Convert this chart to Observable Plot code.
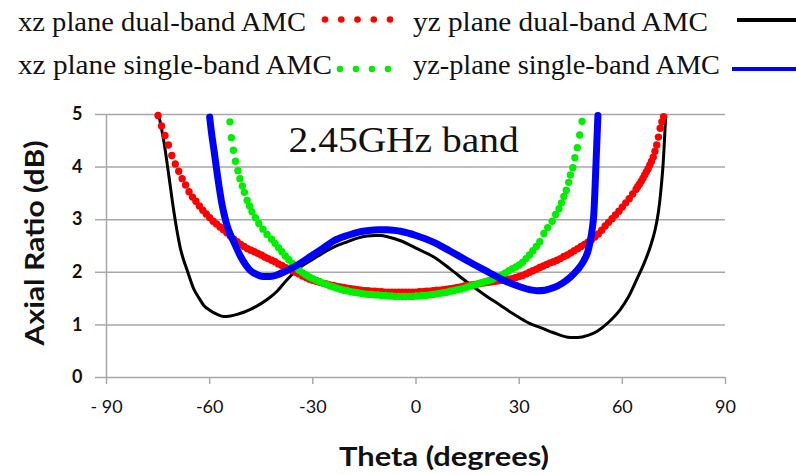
<!DOCTYPE html>
<html><head><meta charset="utf-8">
<script src="https://cdn.jsdelivr.net/npm/d3@7"></script>
<script src="https://cdn.jsdelivr.net/npm/@observablehq/plot@0.6"></script>
<style>
html,body{margin:0;padding:0;background:#fff;}
#chart{width:796px;height:474px;position:relative;overflow:hidden;background:#fff;}
svg{display:block;}
</style></head><body><div id="chart"></div>
<script>
// ---- labels ----
const seriesNames = ["xz plane dual-band AMC", "yz plane dual-band AMC", "xz plane single-band AMC", "yz-plane single-band AMC"];
const seriesColors = ["#ff0000", "#000000", "#00ee00", "#0000ff"];
const xTitle = "Theta (degrees)";
const yTitle = "Axial Ratio (dB)";
const annotation = "2.45GHz band";
const xTicks = [-90, -60, -30, 0, 30, 60, 90];
const yTicks = [0, 1, 2, 3, 4, 5];

// ---- series: [theta (deg), axial ratio (dB)] ----
const xzDual = [[-75,4.98],[-74,4.78],[-73,4.6],[-72,4.42],[-71,4.22],[-70,4.06],[-69,3.92],[-68,3.78],[-67,3.66],[-66,3.53],[-65,3.43],[-64,3.35],[-63,3.26],[-62,3.18],[-61,3.11],[-60,3.04],[-59,2.97],[-58,2.92],[-57,2.86],[-56,2.81],[-55,2.75],[-54,2.69],[-53,2.63],[-52,2.58],[-51,2.53],[-50,2.49],[-49,2.45],[-48,2.42],[-47,2.39],[-46,2.36],[-45,2.33],[-44,2.29],[-43,2.26],[-42,2.23],[-41,2.2],[-40,2.16],[-39,2.13],[-38,2.09],[-37,2.06],[-36,2.03],[-35,2.0],[-34,1.97],[-33,1.93],[-32,1.9],[-31,1.87],[-30,1.85],[-29,1.83],[-28,1.81],[-27,1.79],[-26,1.78],[-25,1.76],[-24,1.75],[-23,1.73],[-22,1.72],[-21,1.71],[-20,1.7],[-19,1.69],[-18,1.68],[-17,1.67],[-16,1.66],[-15,1.65],[-14,1.65],[-13,1.64],[-12,1.64],[-11,1.63],[-10,1.63],[-9,1.62],[-8,1.62],[-7,1.62],[-6,1.62],[-5,1.62],[-4,1.62],[-3,1.62],[-2,1.62],[-1,1.62],[0,1.62],[1,1.63],[2,1.63],[3,1.64],[4,1.64],[5,1.65],[6,1.66],[7,1.66],[8,1.67],[9,1.68],[10,1.69],[11,1.7],[12,1.71],[13,1.72],[14,1.74],[15,1.75],[16,1.76],[17,1.77],[18,1.78],[19,1.79],[20,1.8],[21,1.81],[22,1.82],[23,1.83],[24,1.84],[25,1.85],[26,1.86],[27,1.87],[28,1.88],[29,1.9],[30,1.92],[31,1.94],[32,1.97],[33,2.0],[34,2.03],[35,2.06],[36,2.09],[37,2.12],[38,2.15],[39,2.18],[40,2.2],[41,2.23],[42,2.26],[43,2.3],[44,2.33],[45,2.37],[46,2.41],[47,2.45],[48,2.49],[49,2.53],[50,2.57],[51,2.62],[52,2.67],[53,2.73],[54,2.8],[55,2.88],[56,2.95],[57,3.02],[58,3.09],[59,3.16],[60,3.24],[61,3.32],[62,3.4],[63,3.49],[64,3.58],[64.5,3.63],[65,3.68],[65.5,3.73],[66,3.79],[66.5,3.85],[67,3.91],[67.5,3.97],[68,4.04],[68.5,4.11],[69,4.19],[69.5,4.3],[70,4.42],[70.5,4.57],[71,4.74],[71.5,4.86],[72,4.96]];

const yzDual = [[-74.8,4.99],[-73.3,4.48],[-71.9,3.85],[-70.4,3.15],[-69.4,2.75],[-68.5,2.45],[-67.5,2.22],[-66.5,2.03],[-64.6,1.68],[-63,1.5],[-61.7,1.37],[-60,1.28],[-57.8,1.2],[-55.9,1.16],[-54,1.17],[-52,1.2],[-50.1,1.24],[-48,1.3],[-45.2,1.4],[-42.5,1.52],[-40.4,1.64],[-37.5,1.86],[-35,2.02],[-33.6,2.1],[-30,2.25],[-27,2.37],[-23.9,2.48],[-20,2.58],[-17,2.65],[-14.2,2.69],[-12,2.7],[-10.3,2.7],[-8,2.67],[-4.5,2.6],[0,2.46],[5.2,2.29],[10,2.06],[14.9,1.81],[20,1.57],[24.6,1.37],[28,1.22],[30,1.14],[33,1.03],[36.2,0.95],[40,0.85],[44.9,0.76],[47,0.76],[50,0.8],[52.7,0.88],[56,1.05],[59.5,1.3],[61.5,1.5],[64.3,1.88],[66.2,2.15],[68.2,2.5],[69.5,2.8],[70.5,3.15],[71.2,3.55],[71.9,4.1],[72.6,4.97]];

const xzSingle = [[-54.1,4.86],[-53.7,4.56],[-53.1,4.32],[-52.5,4.11],[-51.8,3.93],[-51.2,3.78],[-50.5,3.64],[-49.9,3.52],[-49.1,3.37],[-48.4,3.26],[-47.7,3.15],[-46.7,3.04],[-45.7,2.93],[-44.5,2.82],[-43.3,2.72],[-42,2.63],[-41,2.55],[-40,2.47],[-39,2.39],[-38,2.31],[-37,2.24],[-36,2.17],[-35,2.1],[-34,2.04],[-33,1.99],[-32,1.95],[-31,1.91],[-30,1.88],[-29,1.85],[-28,1.82],[-27,1.79],[-26,1.77],[-25,1.74],[-24,1.72],[-23,1.7],[-22,1.68],[-21,1.66],[-20,1.65],[-19,1.63],[-18,1.62],[-17,1.61],[-16,1.6],[-15,1.59],[-14,1.58],[-13,1.58],[-12,1.57],[-11,1.57],[-10,1.56],[-9,1.56],[-8,1.55],[-7,1.55],[-6,1.54],[-5,1.54],[-4,1.54],[-3,1.54],[-2,1.54],[-1,1.54],[0,1.55],[1,1.55],[2,1.56],[3,1.56],[4,1.57],[5,1.58],[6,1.59],[7,1.6],[8,1.61],[9,1.62],[10,1.64],[11,1.65],[12,1.67],[13,1.68],[14,1.7],[15,1.72],[16,1.74],[17,1.76],[18,1.78],[19,1.8],[20,1.82],[21,1.84],[22,1.86],[23,1.89],[24,1.92],[25,1.95],[26,1.99],[27,2.03],[28,2.07],[29,2.1],[30,2.14],[31,2.19],[32,2.26],[33,2.33],[34,2.41],[35,2.49],[36,2.58],[37.2,2.74],[38.3,2.85],[39.6,2.97],[40.6,3.1],[41.6,3.21],[42.3,3.32],[43,3.44],[43.7,3.56],[44.4,3.71],[44.9,3.85],[45.6,3.99],[46.2,4.18],[46.9,4.37],[47.6,4.61],[48.3,4.87]];

const yzSingle = [[-60,4.95],[-59.4,4.62],[-58.8,4.35],[-57.8,3.87],[-56.6,3.36],[-55.6,3.05],[-54.9,2.88],[-54,2.72],[-53,2.58],[-51,2.3],[-49.5,2.14],[-48.1,2.03],[-46,1.95],[-44.3,1.92],[-42.3,1.92],[-40.4,1.95],[-38,2.02],[-35.5,2.1],[-30.7,2.3],[-27,2.46],[-23.9,2.6],[-20,2.7],[-17,2.76],[-14.2,2.79],[-11,2.81],[-8.4,2.81],[-4.5,2.78],[0,2.7],[5.2,2.57],[10,2.4],[14.9,2.22],[20,2.04],[24.6,1.88],[27.5,1.79],[30.4,1.72],[33,1.67],[35.2,1.65],[37.5,1.66],[40.1,1.71],[42.5,1.79],[44.9,1.91],[47,2.05],[48.8,2.22],[50,2.4],[50.7,2.6],[51.3,2.85],[51.7,3.1],[52,3.5],[52.3,4],[52.6,4.5],[52.9,4.98]];

const serifFont = "'Liberation Serif', 'Times New Roman', serif";
const sansFont = "Lato, 'Liberation Sans', sans-serif";
const gridColor = "#a8a8a8";

const root = d3.select("#chart");

// ---- legend above the plot ----
const leg = root.append("svg").attr("width", 796).attr("height", 100);
const legendItems = [
  {name: seriesNames[0], x: 18, y: 31, len: 288, kind: "dots", n: 5, x0: 325, x1: 390, sy: 19.5, color: seriesColors[0]},
  {name: seriesNames[1], x: 413, y: 31, len: 295, kind: "line", x0: 737, x1: 796, sy: 20, color: seriesColors[1]},
  {name: seriesNames[2], x: 18, y: 74, len: 314, kind: "dots", n: 4, x0: 340, x1: 388, sy: 69, color: seriesColors[2]},
  {name: seriesNames[3], x: 413, y: 74, len: 307, kind: "line", x0: 732, x1: 796, sy: 69, color: seriesColors[3]}
];
for (const it of legendItems) {
  leg.append("text").attr("x", it.x).attr("y", it.y)
    .attr("font-family", serifFont).attr("font-size", 27).attr("fill", "#111")
    .attr("textLength", it.len).attr("lengthAdjust", "spacingAndGlyphs")
    .text(it.name);
  if (it.kind === "dots") {
    for (let i = 0; i < it.n; i++) {
      leg.append("circle").attr("cx", it.x0 + i * (it.x1 - it.x0) / (it.n - 1)).attr("cy", it.sy).attr("r", 3.3).attr("fill", it.color);
    }
  } else {
    leg.append("line").attr("x1", it.x0).attr("x2", it.x1).attr("y1", it.sy).attr("y2", it.sy)
      .attr("stroke", it.color).attr("stroke-width", 4);
  }
}

// ---- plot ----
const plot = Plot.plot({
  width: 796,
  height: 374,
  marginLeft: 106,
  marginRight: 71,
  marginTop: 14,
  marginBottom: 97,
  style: {fontFamily: sansFont, background: "#fff", color: "#000"},
  x: {domain: [-90, 90]},
  y: {domain: [0, 5]},
  marks: [
    Plot.gridY(yTicks, {stroke: gridColor, strokeOpacity: 1, strokeWidth: 1.5}),
    Plot.ruleX([-90], {stroke: gridColor, strokeWidth: 1.5}),
    Plot.axisY({ticks: yTicks, tickSize: 11, tickPadding: 13, fontSize: 18, fontWeight: "bold", stroke: gridColor, strokeWidth: 1.5, fill: "#111", label: null,
      tickFormat: d => String(d)}),
    Plot.axisX({ticks: xTicks, tickSize: 7, tickPadding: 16, fontSize: 18, stroke: gridColor, strokeWidth: 1.5, fill: "#111", label: null,
      tickFormat: d => d === -90 ? "- 90" : String(d)}),
    Plot.line(yzDual, {x: d => d[0], y: d => d[1], stroke: seriesColors[1], strokeWidth: 3, curve: "monotone-x"}),
    Plot.dot(xzDual, {x: d => d[0], y: d => d[1], r: 3.7, fill: seriesColors[0], stroke: null}),
    Plot.dot(xzSingle, {x: d => d[0], y: d => d[1], r: 3.7, fill: seriesColors[2], stroke: null}),
    Plot.line(yzSingle, {x: d => d[0], y: d => d[1], stroke: seriesColors[3], strokeWidth: 7, curve: "monotone-x"}),
    Plot.text([annotation], {x: -3.6, y: 4.28, text: d => d, fontSize: 36, fontFamily: serifFont, fill: "#111", textAnchor: "middle", lineAnchor: "bottom"})
  ]
});
root.node().appendChild(plot);

const svg = d3.select(plot);
svg.selectAll("text").filter(function() { return this.textContent === annotation; })
  .attr("textLength", 230).attr("lengthAdjust", "spacingAndGlyphs");

// axis titles
svg.append("text").attr("x", 444).attr("y", 366)
  .attr("text-anchor", "middle").attr("font-family", sansFont).attr("font-weight", "bold")
  .attr("font-size", 26).attr("fill", "#111")
  .attr("textLength", 210).attr("lengthAdjust", "spacingAndGlyphs").text(xTitle);
svg.append("text").attr("transform", "translate(44,143) rotate(-90)")
  .attr("text-anchor", "middle").attr("font-family", sansFont).attr("font-weight", "bold")
  .attr("font-size", 26).attr("fill", "#111")
  .attr("textLength", 205).attr("lengthAdjust", "spacingAndGlyphs").text(yTitle);
</script></body></html>
